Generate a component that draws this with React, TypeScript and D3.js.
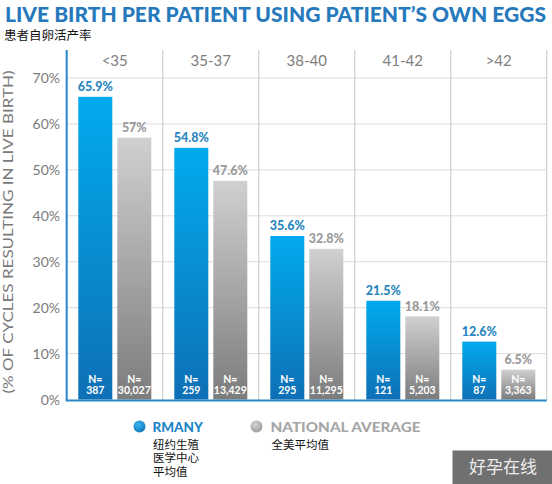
import React from "react";
import * as d3 from "d3";

const categories = ["<35", "35-37", "38-40", "41-42", ">42"];
const seriesKeys = ["RMANY", "NATIONAL AVERAGE"];
const rmanyValues = [65.9, 54.8, 35.6, 21.5, 12.6];
const nationalValues = [57, 47.6, 32.8, 18.1, 6.5];
const rmanyLabels = ["65.9%", "54.8%", "35.6%", "21.5%", "12.6%"];
const nationalLabels = ["57%", "47.6%", "32.8%", "18.1%", "6.5%"];
const rmanyN = ["387", "259", "295", "121", "87"];
const nationalN = ["30,027", "13,429", "11,295", "5,203", "3,363"];
const yTicks = [0, 10, 20, 30, 40, 50, 60, 70];
const yTickLabels = ["0%", "10%", "20%", "30%", "40%", "50%", "60%", "70%"];
const legendCn = [["纽约生殖", "医学中心", "平均值"], ["全美平均值"]];

const W = 552;
const H = 484;
const LATIN = "Lato, 'Open Sans', 'DejaVu Sans', sans-serif";
const CJK = "'Noto Sans CJK SC', sans-serif";

export default function App() {
  const x = d3.scaleBand().domain(categories).range([66.7, 546.7]).padding(0);
  const xs = d3
    .scaleBand()
    .domain(seriesKeys)
    .range([11.6, 84.6])
    .paddingInner(5 / 39)
    .paddingOuter(0);
  const y = d3.scaleLinear().domain([0, 70]).range([399.5, 78]);
  const bw = xs.bandwidth();

  const series = [
    { key: seriesKeys[0], values: rmanyValues, labels: rmanyLabels, ns: rmanyN, fill: "url(#gBlue)", labelColor: "#2a86c0" },
    { key: seriesKeys[1], values: nationalValues, labels: nationalLabels, ns: nationalN, fill: "url(#gGray)", labelColor: "#9a9a9a" },
  ];

  return (
    <svg width={W} height={H} style={{ position: "absolute", left: 0, top: 0, background: "#fff" }}>
      <defs>
        <linearGradient id="gBlue" x1="0" y1="0" x2="0" y2="1">
          <stop offset="0" stopColor="#02aaed" />
          <stop offset="1" stopColor="#0e70b6" />
        </linearGradient>
        <linearGradient id="gGray" x1="0" y1="0" x2="0" y2="1">
          <stop offset="0" stopColor="#d0d0d0" />
          <stop offset="1" stopColor="#7c7c7c" />
        </linearGradient>
        <radialGradient id="rBlue" cx="0.4" cy="0.35" r="0.7">
          <stop offset="0" stopColor="#3ab4ef" />
          <stop offset="1" stopColor="#1177bd" />
        </radialGradient>
        <radialGradient id="rGray" cx="0.4" cy="0.35" r="0.7">
          <stop offset="0" stopColor="#d4d4d4" />
          <stop offset="1" stopColor="#9a9a9a" />
        </radialGradient>
      </defs>

      {/* title */}
      <text x={5} y={22} fontFamily={LATIN} fontWeight={900} fontSize={21.5} fill="#2679bd" textLength={541} lengthAdjust="spacingAndGlyphs">
        LIVE BIRTH PER PATIENT USING PATIENT’S OWN EGGS
      </text>
      <text x={4} y={39.5} fontFamily={CJK} fontSize={12.5} fill="#111">
        患者自卵活产率
      </text>

      {/* gridlines */}
      {yTicks.filter((t) => t > 0).map((t) => (
        <line key={t} x1={66.7} x2={546.7} y1={y(t)} y2={y(t)} stroke="#dcdcdc" strokeWidth={1} />
      ))}
      {/* group separators */}
      {categories.map((c) => (
        <line key={c} x1={(x(c) as number) + x.bandwidth()} x2={(x(c) as number) + x.bandwidth()} y1={50} y2={400} stroke="#cfcfcf" strokeWidth={1.2} />
      ))}

      {/* column headers */}
      {categories.map((c) => (
        <text key={c} x={(x(c) as number) + x.bandwidth() / 2} y={66} textAnchor="middle" fontFamily={LATIN} fontSize={15} fill="#808080">
          {c}
        </text>
      ))}

      {/* y tick labels */}
      {yTicks.map((t, i) => (
        <text key={t} x={60} y={y(t) + 5} textAnchor="end" fontFamily={LATIN} fontSize={14} fill="#7a7a7a">
          {yTickLabels[i]}
        </text>
      ))}

      {/* y axis title */}
      <text
        transform={`translate(13,232) rotate(-90)`}
        textAnchor="middle"
        fontFamily={LATIN}
        fontSize={14}
        fill="#7a7a7a"
        textLength={323}
        lengthAdjust="spacingAndGlyphs"
      >
        (% OF CYCLES RESULTING IN LIVE BIRTH)
      </text>

      {/* bars */}
      {series.map((s) =>
        categories.map((c, i) => {
          const bx = (x(c) as number) + (xs(s.key) as number);
          const top = y(s.values[i]);
          return (
            <g key={s.key + c}>
              <rect x={bx} y={top} width={bw} height={y(0) - top} fill={s.fill} />
              <text x={bx + bw / 2} y={top - 5.5} textAnchor="middle" fontFamily={LATIN} fontWeight={900} fontSize={12.5} fill={s.labelColor}>
                {s.labels[i]}
              </text>
              <text x={bx + bw / 2} y={383} textAnchor="middle" fontFamily={LATIN} fontWeight={700} fontSize={10.5} fill="#fff">
                N=
              </text>
              <text x={bx + bw / 2} y={394} textAnchor="middle" fontFamily={LATIN} fontWeight={700} fontSize={10.5} fill="#fff">
                {s.ns[i]}
              </text>
            </g>
          );
        })
      )}

      {/* axes */}
      <line x1={66.7} x2={66.7} y1={50} y2={400} stroke="#2a86c8" strokeWidth={2} />
      <line x1={65.7} x2={546.7} y1={400.5} y2={400.5} stroke="#2a86c8" strokeWidth={2} />

      {/* legend */}
      <circle cx={139.5} cy={426.5} r={6} fill="url(#rBlue)" />
      <text x={152.5} y={431.5} fontFamily={LATIN} fontWeight={900} fontSize={13.5} fill="#1e86c8">
        RMANY
      </text>
      <circle cx={256.5} cy={426.5} r={6} fill="url(#rGray)" />
      <text x={270.5} y={431.5} fontFamily={LATIN} fontWeight={900} fontSize={13.5} fill="#a6a6a6" textLength={150} lengthAdjust="spacingAndGlyphs">
        NATIONAL AVERAGE
      </text>
      {legendCn[0].map((t, i) => (
        <text key={t} x={153} y={448.5 + i * 13.5} fontFamily={CJK} fontSize={11.5} fill="#111">
          {t}
        </text>
      ))}
      {legendCn[1].map((t, i) => (
        <text key={t} x={271.5} y={448.5 + i * 13.5} fontFamily={CJK} fontSize={11.5} fill="#111">
          {t}
        </text>
      ))}

      {/* watermark */}
      <rect x={452.5} y={450.5} width={100} height={34} fill="#707070" />
      <text x={503} y={473} textAnchor="middle" fontFamily={CJK} fontSize={17} fill="#ececec">
        好孕在线
      </text>
    </svg>
  );
}
